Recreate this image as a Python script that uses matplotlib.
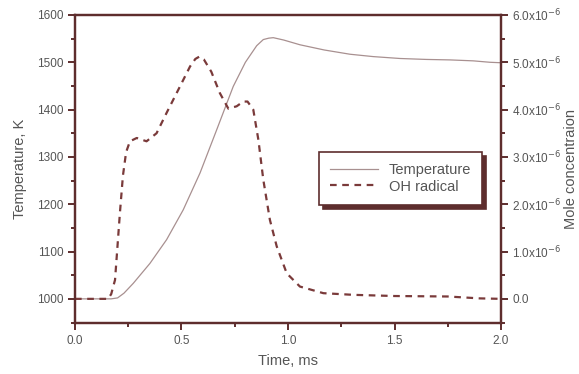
import matplotlib
matplotlib.use("Agg")
import matplotlib.pyplot as plt
from matplotlib.ticker import MultipleLocator, FixedLocator

plt.rcParams['font.family'] = ['Liberation Sans', 'DejaVu Sans']

# Temperature (K) vs time (ms)
t_temp = [0.0, 0.10, 0.17, 0.20, 0.23, 0.274, 0.352, 0.43, 0.508, 0.587, 0.665, 0.743,
          0.80, 0.853, 0.884, 0.91, 0.931, 0.98, 1.056, 1.17, 1.291, 1.40, 1.526, 1.65,
          1.761, 1.87, 1.948, 2.0]
temp = [1000, 1000, 1000, 1002, 1012, 1033, 1075, 1125, 1188, 1266, 1357, 1449,
        1500, 1535, 1548, 1551, 1552, 1547, 1537, 1526, 1517, 1512, 1508, 1506,
        1505, 1503, 1500, 1499]

# OH radical mole concentration (x1e-6) vs time (ms)
t_oh = [0.0, 0.10, 0.155, 0.17, 0.188, 0.211, 0.225, 0.24, 0.258, 0.29, 0.336, 0.383,
        0.43, 0.493, 0.54, 0.565, 0.584, 0.605, 0.64, 0.68, 0.72, 0.759, 0.79, 0.81,
        0.837, 0.861, 0.884, 0.915, 0.947, 0.994, 1.056, 1.166, 1.306, 1.50, 1.75,
        1.90, 2.0]
oh = [0.0, 0.0, 0.0, 0.1, 0.4, 1.82, 2.6, 3.1, 3.33, 3.40, 3.33, 3.50,
      3.93, 4.49, 4.91, 5.07, 5.12, 5.06, 4.80, 4.35, 4.02, 4.07, 4.17, 4.17,
      4.00, 3.36, 2.52, 1.67, 1.11, 0.54, 0.26, 0.12, 0.085, 0.06, 0.05,
      0.01, 0.0]

x_ticks = [0.0, 0.5, 1.0, 1.5, 2.0]
x_ticklabels = ['0.0', '0.5', '1.0', '1.5', '2.0']
t_ticks = [1000, 1100, 1200, 1300, 1400, 1500, 1600]
oh_ticks = [0.0, 1.0, 2.0, 3.0, 4.0, 5.0, 6.0]
oh_ticklabels = ['0.0', r'1.0x10$^{-6}$', r'2.0x10$^{-6}$', r'3.0x10$^{-6}$',
                 r'4.0x10$^{-6}$', r'5.0x10$^{-6}$', r'6.0x10$^{-6}$']

axc = '#5e2d2d'
txtc = '#555555'
tempc = '#a89090'
ohc = '#7a3a3a'

fig = plt.figure(figsize=(5.79, 3.74), dpi=100)
ax = fig.add_axes([0.1295, 0.1364, 0.7358, 0.8236])
ax2 = ax.twinx()

l1, = ax.plot(t_temp, temp, color=tempc, lw=0.9, label='Temperature')
l2, = ax2.plot(t_oh, oh, color=ohc, lw=1.6, ls=(0, (3, 2.5)), label='OH radical')

ax.set_xlim(0, 2.0)
ax.set_ylim(949, 1600)
ax2.set_ylim(-0.51, 6.0)

ax.xaxis.set_major_locator(FixedLocator(x_ticks))
ax.set_xticklabels(x_ticklabels)
ax.xaxis.set_minor_locator(MultipleLocator(0.25))
ax.yaxis.set_major_locator(FixedLocator(t_ticks))
ax.yaxis.set_minor_locator(MultipleLocator(50))
ax2.yaxis.set_major_locator(FixedLocator(oh_ticks))
ax2.set_yticklabels(oh_ticklabels)
ax2.yaxis.set_minor_locator(MultipleLocator(0.5))

for a in (ax, ax2):
    for s in a.spines.values():
        s.set_color(axc)
        s.set_linewidth(1.6)
    a.tick_params(which='both', direction='out', color=axc, width=1.4, labelcolor=txtc, labelsize=8.5)
    a.tick_params(which='major', length=5)
    a.tick_params(which='minor', length=3)
ax.tick_params(axis='x', top=False, pad=4)
ax2.tick_params(axis='y', pad=3)

ax.set_xlabel('Time, ms', color=txtc, fontsize=10.5, labelpad=5)
ax.set_ylabel('Temperature, K', color=txtc, fontsize=10.5, labelpad=7)
ax2.set_ylabel('Mole concentraion', color=txtc, fontsize=10.5, labelpad=2)

leg = ax2.legend(handles=[l1, l2], loc='upper right', bbox_to_anchor=(0.955, 0.556),
                 borderaxespad=0, fancybox=False, fontsize=10.5, handlelength=3.3,
                 handletextpad=0.7, labelcolor=txtc, borderpad=0.75, labelspacing=0.2,
                 shadow={'ox': 3, 'oy': -3, 'facecolor': axc, 'edgecolor': axc, 'alpha': 1})
leg.get_frame().set_edgecolor(axc)
leg.get_frame().set_linewidth(1.2)

fig.savefig('out.png', dpi=100)
